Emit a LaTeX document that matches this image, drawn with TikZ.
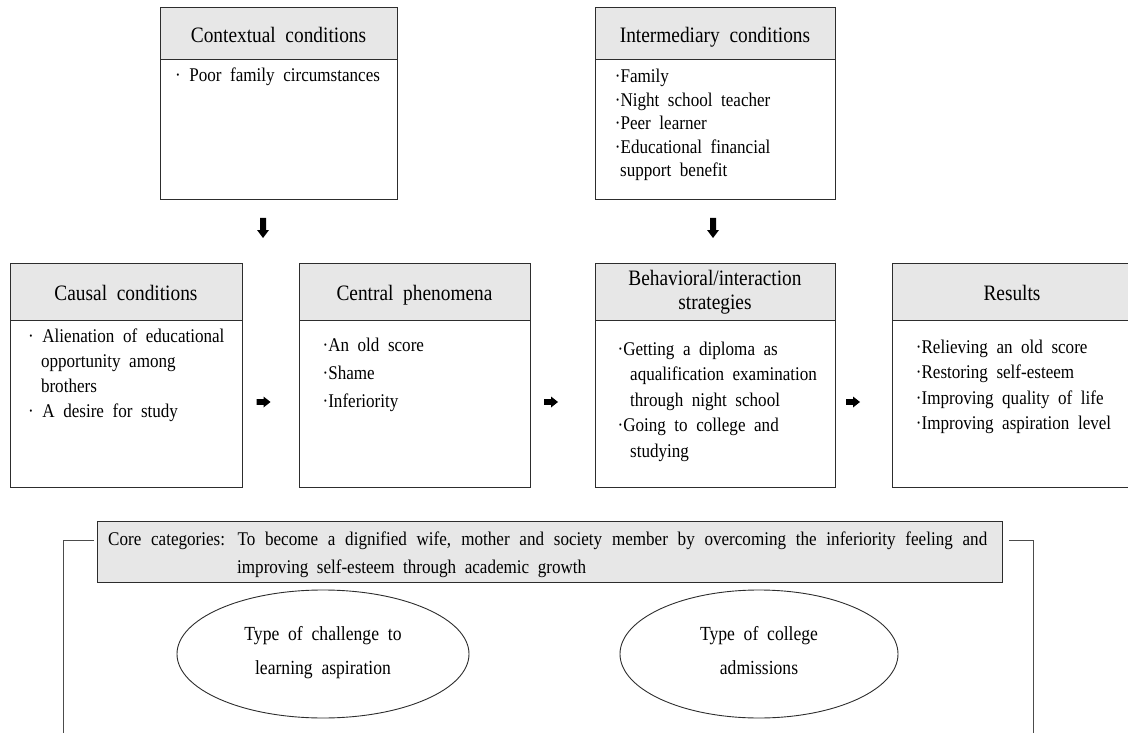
\documentclass[tikz,border=0pt]{standalone}
\usepackage{fontspec}
\setmainfont{Liberation Serif}[FakeStretch=0.88,WordSpace=2]
\usetikzlibrary{shapes.geometric,calc}
\definecolor{hdr}{RGB}{231,231,231}
\definecolor{frame}{RGB}{45,45,45}
\newcommand\bodyf{\fontsize{19.4pt}{25pt}\selectfont}
\newcommand\titlef{\fontsize{22pt}{26pt}\selectfont}
\newcommand\ovalf{\fontsize{20pt}{26pt}\selectfont}
\newcommand\mylines[2]{\vtop{\baselineskip=#1\relax\lineskiplimit=-20pt\lineskip=0pt #2}}
\begin{document}
\begin{tikzpicture}[x=1pt,y=-1pt,
  hbox/.style={draw=frame,line width=1pt,fill=hdr,rectangle,inner sep=0pt,anchor=north west},
  bbox/.style={draw=frame,line width=1pt,fill=white,rectangle,inner sep=0pt,anchor=north west},
  ttl/.style={font=\titlef,inner sep=0pt,anchor=base},
  ovtxt/.style={font=\ovalf,inner sep=0pt,anchor=base},
  txt/.style={font=\bodyf,inner sep=0pt,anchor=base west},
  bracket/.style={draw=black!70,line width=1pt},
  oval/.style={draw=frame,line width=0.9pt,ellipse,inner sep=0pt},
  rarr/.pic={\fill[black] (-7,-2.8) -- (0,-2.8) -- (0,-5.5) -- (7,0) -- (0,5.5) -- (0,2.8) -- (-7,2.8) -- cycle;},
  darr/.pic={\fill[black] (-3,-10) -- (3,-10) -- (3,2) -- (6,2) -- (0,10) -- (-6,2) -- (-3,2) -- cycle;}
]
\useasboundingbox (0,0) rectangle (1128,733);

% top row
\node[hbox,minimum width=237pt,minimum height=52pt] (ctxh) at (160,7) {};
\node[bbox,minimum width=237pt,minimum height=140pt] (ctxb) at (160,59) {};
\node[ttl] (ctxt) at (278.5,42.5) {Contextual conditions};
\node[txt] (ctx1) at (175,82) {·~Poor family circumstances};

\node[hbox,minimum width=240pt,minimum height=52pt] (inth) at (595,7) {};
\node[bbox,minimum width=240pt,minimum height=140pt] (intb) at (595,59) {};
\node[ttl] (intt) at (715,42.5) {Intermediary conditions};
\node[txt] (int1) at (614.7,83) {\mylines{23.5pt}{\hbox{·Family}\hbox{·Night school teacher}\hbox{·Peer learner}\hbox{·Educational financial}\hbox{\hspace*{5.3pt}support benefit}}};

% second row
\node[hbox,minimum width=232pt,minimum height=57pt] (cauh) at (10,263) {};
\node[bbox,minimum width=232pt,minimum height=167pt] (caub) at (10,320) {};
\node[ttl] (caut) at (126,300) {Causal conditions};
\node[txt] (cau1) at (28,342) {\mylines{25pt}{\hbox{·~Alienation of educational}\hbox{\hspace*{12.8pt}opportunity among}\hbox{\hspace*{12.8pt}brothers}\hbox{·~A desire for study}}};

\node[hbox,minimum width=231pt,minimum height=57pt] (cenh) at (299,263) {};
\node[bbox,minimum width=231pt,minimum height=167pt] (cenb) at (299,320) {};
\node[ttl] (cent) at (414.5,300) {Central phenomena};
\node[txt] (cen1) at (322.4,351) {\mylines{28pt}{\hbox{·An old score}\hbox{·Shame}\hbox{·Inferiority}}};

\node[hbox,minimum width=240pt,minimum height=57pt] (behh) at (595,263) {};
\node[bbox,minimum width=240pt,minimum height=167pt] (behb) at (595,320) {};
\node[ttl] (beht1) at (715,285) {Behavioral/interaction};
\node[ttl] (beht2) at (715,309) {strategies};
\node[txt] (beh1) at (617.4,355) {\mylines{25.5pt}{\hbox{·Getting a diploma as}\hbox{\hspace*{12.6pt}aqualification examination}\hbox{\hspace*{12.6pt}through night school}\hbox{·Going to college and}\hbox{\hspace*{12.6pt}studying}}};

\node[hbox,minimum width=240pt,minimum height=57pt] (resh) at (892,263) {};
\node[bbox,minimum width=240pt,minimum height=167pt] (resb) at (892,320) {};
\node[ttl] (rest) at (1012,300) {Results};
\node[txt] (res1) at (915.7,353) {\mylines{25.5pt}{\hbox{·Relieving an old score}\hbox{·Restoring self-esteem}\hbox{·Improving quality of life}\hbox{·Improving aspiration level}}};

% arrows
\pic at (263,228) {darr};
\pic at (713,228) {darr};
\pic at (263.5,402) {rarr};
\pic at (551,402) {rarr};
\pic at (853,402) {rarr};

% core category
\node[hbox,minimum width=905pt,minimum height=61pt] (core) at (97,521) {};
\node[txt] (core1) at (108,545) {\makebox[879pt][s]{Core categories: To become a dignified wife, mother and society member by overcoming the inferiority feeling and}};
\node[txt] (core2) at (237,573) {improving self-esteem through academic growth};

\coordinate (lb) at (63,733);
\coordinate (rb) at (1033,733);
\draw[bracket] ([yshift=11.5pt,xshift=-3pt]core.west) -| (lb);
\draw[bracket] ([yshift=11.5pt,xshift=6pt]core.east) -| (rb);

% ellipses
\node[oval,minimum width=292pt,minimum height=128pt] (ov1) at (323,654) {};
\node[ovtxt] (ov1a) at (323,640) {Type of challenge to};
\node[ovtxt] (ov1b) at (323,674) {learning aspiration};
\node[oval,minimum width=278pt,minimum height=128pt] (ov2) at (759,654) {};
\node[ovtxt] (ov2a) at (759,640) {Type of college};
\node[ovtxt] (ov2b) at (759,674) {admissions};
\end{tikzpicture}
\end{document}
